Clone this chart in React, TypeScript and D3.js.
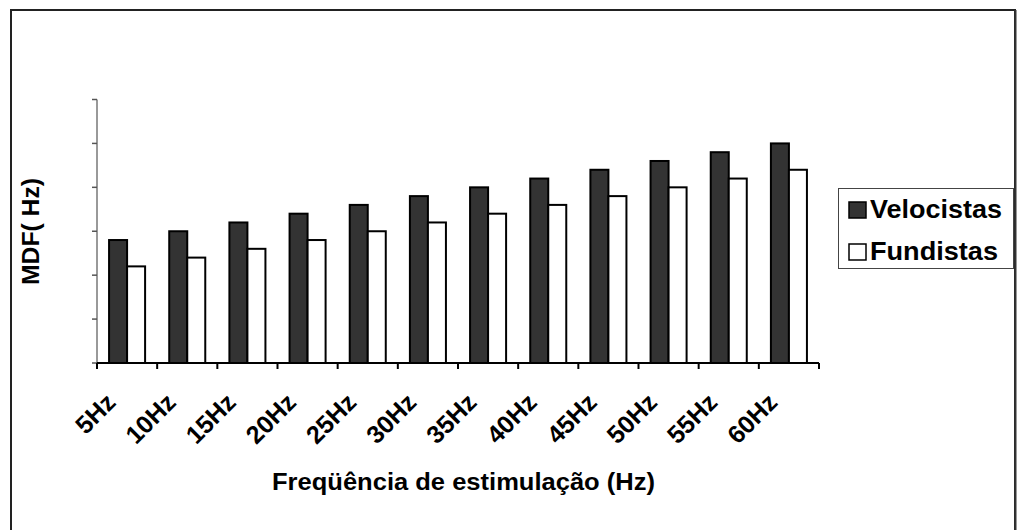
import React from "react";
import * as d3 from "d3";

const categories = ["5Hz", "10Hz", "15Hz", "20Hz", "25Hz", "30Hz", "35Hz", "40Hz", "45Hz", "50Hz", "55Hz", "60Hz"];
const seriesNames = ["Velocistas", "Fundistas"];
const velocistas = [2.8, 3.0, 3.2, 3.4, 3.6, 3.8, 4.0, 4.2, 4.4, 4.6, 4.8, 5.0];
const fundistas = [2.2, 2.4, 2.6, 2.8, 3.0, 3.2, 3.4, 3.6, 3.8, 4.0, 4.2, 4.4];
const yTicks = [0, 1, 2, 3, 4, 5, 6];
const xTitle = "Freqüência de estimulação (Hz)";
const yTitle = "MDF( Hz)";

const FONT = "'Liberation Sans', Arial, sans-serif";
const colors = ["#333333", "#ffffff"];

export default function App() {
  const x = d3.scaleBand<string>().domain(categories).range([97, 819]).paddingInner(0).paddingOuter(0);
  const xi = d3.scaleBand<string>().domain(seriesNames).range([0, x.bandwidth()]).paddingInner(0).paddingOuter(0.67);
  const y = d3.scaleLinear().domain([0, 6]).range([363, 99.5]);
  const data = [velocistas, fundistas];
  const edges = categories.map((c) => x(c)!).concat([x.range()[1]]);

  return (
    <svg width={1023} height={530} style={{ position: "absolute", left: 0, top: 0, background: "#fff" }}>
      <rect x={0} y={0} width={1023} height={530} fill="#fff" />
      {/* outer border */}
      <rect x={11} y={10} width={1004} height={530} fill="none" stroke="#222" strokeWidth={2} />
      <line x1={1015.5} y1={10} x2={1015.5} y2={530} stroke="#333" strokeWidth={2} />

      {/* bars */}
      {categories.map((c, i) => (
        <g key={c}>
          {seriesNames.map((s, j) => {
            const v = data[j][i];
            const bx = x(c)! + xi(s)!;
            return (
              <rect
                key={s}
                x={bx}
                y={y(v)}
                width={xi.bandwidth()}
                height={y(0) - y(v)}
                fill={colors[j]}
                stroke="#000"
                strokeWidth={2}
              />
            );
          })}
        </g>
      ))}

      {/* y axis */}
      <line x1={97} y1={y(6)} x2={97} y2={y(0)} stroke="#777" strokeWidth={1.5} />
      {yTicks.map((t) => (
        <line key={t} x1={92} x2={97} y1={y(t)} y2={y(t)} stroke="#555" strokeWidth={1.5} />
      ))}

      {/* x axis */}
      <line x1={97} y1={363} x2={819} y2={363} stroke="#000" strokeWidth={2} />
      {edges.map((e, i) => (
        <line key={i} x1={e} x2={e} y1={363} y2={369} stroke="#000" strokeWidth={2} />
      ))}
      {categories.map((c) => {
        const cx = x(c)! + x.bandwidth() / 2;
        return (
          <text
            key={c}
            transform={`translate(${cx - 10},${404}) rotate(-45)`}
            textAnchor="end"
            fontFamily={FONT}
            fontWeight="bold"
            fontSize={25}
            fill="#000"
          >
            {c}
          </text>
        );
      })}

      {/* axis titles */}
      <text
        x={463.5}
        y={490}
        textAnchor="middle"
        fontFamily={FONT}
        fontWeight="bold"
        fontSize={23}
        textLength={383}
        lengthAdjust="spacingAndGlyphs"
        fill="#000"
      >
        {xTitle}
      </text>
      <text
        transform={`translate(39,231.5) rotate(-90)`}
        textAnchor="middle"
        fontFamily={FONT}
        fontWeight="bold"
        fontSize={24}
        textLength={107}
        lengthAdjust="spacingAndGlyphs"
        fill="#000"
      >
        {yTitle}
      </text>

      {/* legend */}
      <rect x={838.5} y={188.5} width={175} height={80} fill="#fff" stroke="#444" strokeWidth={1} />
      {seriesNames.map((s, j) => (
        <g key={s}>
          <rect x={849} y={202 + j * 42} width={17} height={16} fill={colors[j]} stroke="#000" strokeWidth={1.5} />
          <text
            x={870}
            y={218 + j * 42}
            fontFamily={FONT}
            fontWeight="bold"
            fontSize={25}
            textLength={j === 0 ? 132 : 128}
            lengthAdjust="spacingAndGlyphs"
            fill="#000"
          >
            {s}
          </text>
        </g>
      ))}
    </svg>
  );
}
